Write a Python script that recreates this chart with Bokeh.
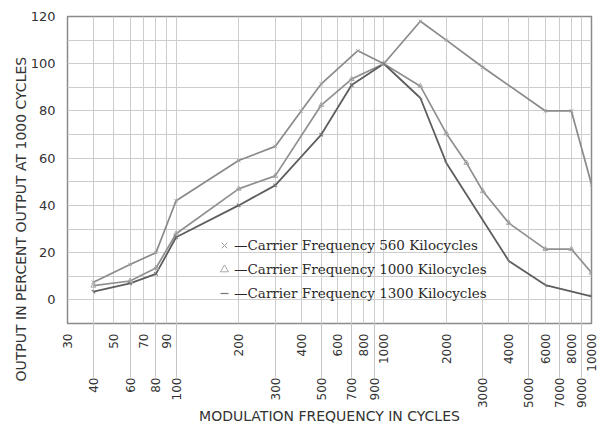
from math import pi
from bokeh.plotting import figure
from bokeh.models import (Range1d, LogAxis, FixedTicker, NumeralTickFormatter,
                          Legend, LegendItem, Title)
from bokeh.embed import file_html
from bokeh.resources import INLINE

# ---- data ----
freq_560 = [40, 60, 80, 100, 200, 300, 400, 500, 750, 1000, 1500, 2000, 3000, 6000, 8000, 10000]
out_560 = [7.5, 15, 20, 42, 59, 65, 80, 91.5, 105.5, 100, 118, 110, 98.5, 80, 80, 49]

freq_1000 = [40, 60, 80, 100, 200, 300, 500, 700, 1000, 1500, 2000, 2500, 3000, 4000, 6000, 8000, 10000]
out_1000 = [6, 8, 13.5, 28, 47, 52.5, 82.5, 93.5, 100, 90.5, 70.5, 58, 46, 32.5, 21.5, 21.5, 11.5]

freq_1300 = [40, 60, 80, 100, 200, 300, 500, 700, 1000, 1500, 2000, 4000, 6000, 10000]
out_1300 = [3.5, 7, 11, 26.5, 40, 48.5, 70, 91, 100, 85.5, 58, 16.5, 6.3, 1.5]

ticks_upper = [30, 50, 70, 90, 200, 400, 600, 800, 1000, 2000, 4000, 6000, 8000, 10000]
ticks_lower = [40, 60, 80, 100, 300, 500, 700, 900, 3000, 5000, 7000, 9000]
grid_x = sorted(ticks_upper + ticks_lower)
y_ticks = [0, 20, 40, 60, 80, 100, 120]
y_grid = list(range(-10, 121, 10))

labels = ["\u2014Carrier Frequency 560 Kilocycles",
          "\u2014Carrier Frequency 1000 Kilocycles",
          "\u2014Carrier Frequency 1300 Kilocycles"]

SANS = "DejaVu Sans"
SERIF = "DejaVu Serif"
INK = "#333333"

p = figure(width=598, height=427, x_axis_type="log",
           x_range=Range1d(30, 10000), y_range=Range1d(-10, 120),
           output_backend="svg", toolbar_location=None,
           min_border_left=67, min_border_right=7, min_border_top=16,
           min_border_bottom=0)
p.background_fill_color = "white"
p.border_fill_color = "white"
p.outline_line_color = "#8a8a8a"
p.outline_line_width = 1.5

# grid
p.xgrid[0].ticker = FixedTicker(ticks=grid_x)
p.ygrid[0].ticker = FixedTicker(ticks=y_grid)
for g in (p.xgrid[0], p.ygrid[0]):
    g.grid_line_color = "#cdcdcd"
    g.grid_line_width = 1

# y axis
ya = p.yaxis[0]
ya.ticker = FixedTicker(ticks=y_ticks)
ya.axis_line_color = None
ya.major_tick_line_color = None
ya.minor_tick_line_color = None
ya.major_label_standoff = 6
ya.major_label_text_font = SANS
ya.major_label_text_font_size = "13px"
ya.major_label_text_color = INK

# y axis title (a Title so it can run past the frame, as in the reference)
p.add_layout(Title(text="OUTPUT IN PERCENT OUTPUT AT 1000 CYCLES", align="left",
                   offset=-58, standoff=-2, text_font=SANS,
                   text_font_size="14px", text_font_style="normal",
                   text_color=INK), "left")

# x axis, upper row of labels
xa = p.xaxis[0]
xa.ticker = FixedTicker(ticks=ticks_upper)
xa.formatter = NumeralTickFormatter(format="0")
xa.major_label_orientation = pi / 2
xa.axis_line_color = None
xa.major_tick_line_color = None
xa.minor_tick_line_color = None
xa.major_label_standoff = 4
xa.major_label_text_font = SANS
xa.major_label_text_font_size = "12px"
xa.major_label_text_color = INK

# x axis, lower row of labels
xb = LogAxis(ticker=FixedTicker(ticks=ticks_lower),
             formatter=NumeralTickFormatter(format="0"),
             major_label_orientation=pi / 2,
             axis_line_color=None,
             major_tick_in=52, major_tick_out=3,
             major_tick_line_color="#c4c4c4",
             minor_tick_line_color=None,
             major_label_standoff=0,
             major_label_text_font=SANS,
             major_label_text_font_size="12px",
             major_label_text_color=INK,
             axis_label="MODULATION FREQUENCY IN CYCLES",
             axis_label_standoff=-3,
             axis_label_text_font=SANS,
             axis_label_text_font_size="14px",
             axis_label_text_font_style="normal",
             axis_label_text_color=INK)
p.add_layout(xb, "below")

# curves
r1 = p.line(freq_560, out_560, line_color="#8a8a8a", line_width=1.7)
r2 = p.line(freq_1000, out_1000, line_color="#8f8f8f", line_width=1.7)
r3 = p.line(freq_1300, out_1300, line_color="#5e5e5e", line_width=1.8)
s1 = p.scatter(freq_560, out_560, marker="x", size=5, line_color="#a0a0a0", line_width=1)
s2 = p.scatter(freq_1000, out_1000, marker="triangle", size=5, line_color="#a8a8a8",
               fill_color=None, line_width=1)
s3 = p.scatter(freq_1300, out_1300, marker="dash", size=5, angle=-pi / 4,
               line_color="#777777", line_width=1.2)

legend = Legend(items=[LegendItem(label=labels[0], renderers=[s1]),
                       LegendItem(label=labels[1], renderers=[s2]),
                       LegendItem(label=labels[2], renderers=[s3])],
                location=(147, 20), padding=0, margin=0, spacing=4,
                glyph_width=20, glyph_height=20, label_height=20,
                label_standoff=0,
                label_text_font=SERIF, label_text_font_size="13.5px",
                label_text_color="#2a2a2a",
                border_line_color=None, background_fill_alpha=0)
p.add_layout(legend)

open("out.html", "w").write(file_html(p, INLINE))
